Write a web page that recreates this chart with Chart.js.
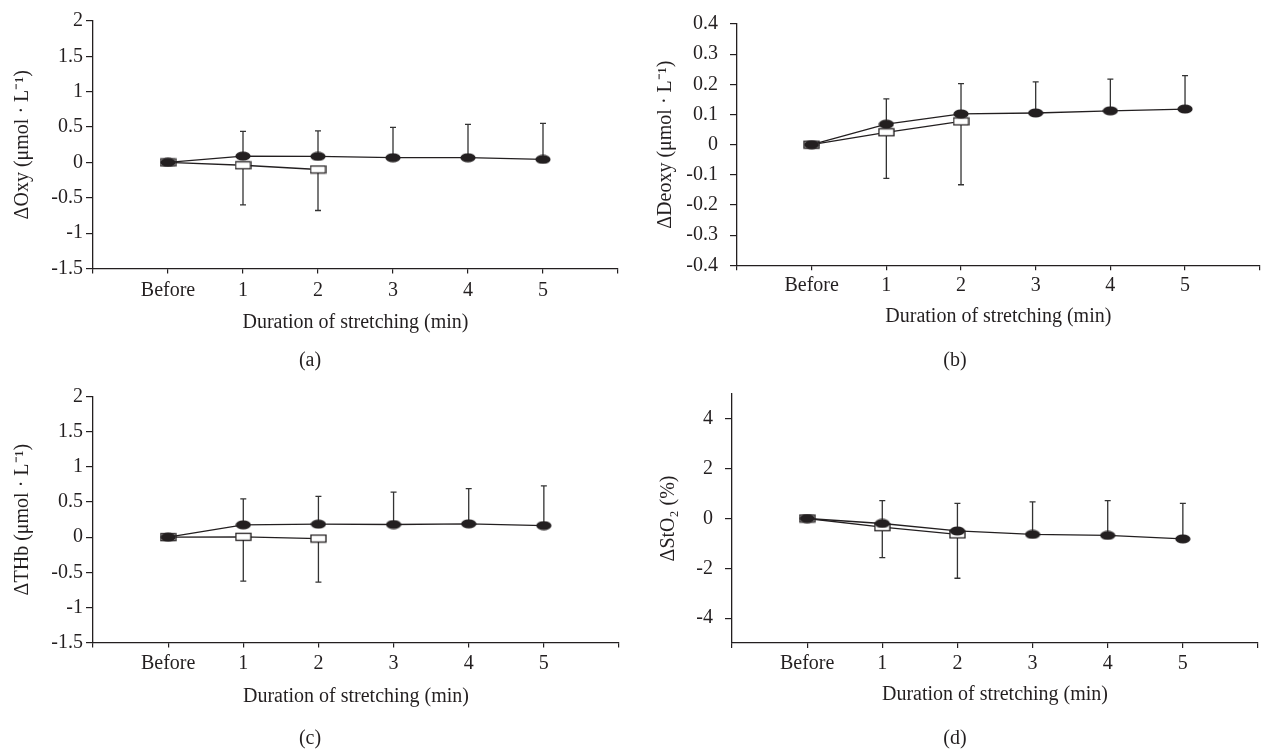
<!DOCTYPE html>
<html>
<head>
<meta charset="utf-8">
<script src="https://cdn.jsdelivr.net/npm/chart.js@4"></script>
<style>
  body { margin: 0; background: #fff; width: 1266px; height: 755px; position: relative; overflow: hidden;
         font-family: 'Liberation Serif', serif; color: #231f20; }
  canvas { position: absolute; }
  .cap { position: absolute; font-size: 20px; transform: translate(-50%, -50%); white-space: nowrap; }
</style>
</head>
<body>
<canvas id="chartA" width="633" height="335" style="left:0;top:0"></canvas>
<canvas id="chartB" width="633" height="329" style="left:633px;top:0"></canvas>
<canvas id="chartC" width="633" height="339" style="left:0;top:370px"></canvas>
<canvas id="chartD" width="633" height="337" style="left:633px;top:370px"></canvas>
<div class="cap" style="left:310px;top:359px">(a)</div>
<div class="cap" style="left:955px;top:359px">(b)</div>
<div class="cap" style="left:310px;top:737px">(c)</div>
<div class="cap" style="left:955px;top:737px">(d)</div>

<script>
// time points on the x axis
const steps = ['Before', '1', '2', '3', '4', '5'];
const xTicks = [-1, 0, 1, 2, 3, 4, 5, 6];

// (a) ΔOxy
const oxyFilled = [0, 0.09, 0.085, 0.067, 0.067, 0.043];
const oxyFilledSD = [null, 0.35, 0.36, 0.43, 0.47, 0.51];
const oxyOpen = [0, -0.04, -0.10];
const oxyOpenSD = [null, 0.56, 0.58];
const oxyTicks = [-1.5, -1, -0.5, 0, 0.5, 1, 1.5, 2];

// (b) ΔDeoxy
const deoxyFilled = [0, 0.068, 0.102, 0.105, 0.112, 0.118];
const deoxyFilledSD = [null, 0.084, 0.100, 0.103, 0.105, 0.111];
const deoxyOpen = [0, 0.041, 0.077];
const deoxyOpenSD = [null, 0.153, 0.21];
const deoxyTicks = [-0.4, -0.3, -0.2, -0.1, 0, 0.1, 0.2, 0.3, 0.4];

// (c) ΔTHb
const thbFilled = [0, 0.175, 0.185, 0.18, 0.19, 0.165];
const thbFilledSD = [null, 0.37, 0.395, 0.46, 0.50, 0.565];
const thbOpen = [0, 0.005, -0.02];
const thbOpenSD = [null, 0.63, 0.62];
const thbTicks = [-1.5, -1, -0.5, 0, 0.5, 1, 1.5, 2];

// (d) ΔStO2
const sto2Filled = [0, -0.2, -0.5, -0.64, -0.68, -0.82];
const sto2FilledSD = [null, 0.92, 1.11, 1.31, 1.40, 1.43];
const sto2Open = [0, -0.35, -0.64];
const sto2OpenSD = [null, 1.22, 1.76];
const sto2Ticks = [-4, -2, 0, 2, 4];

const INK = '#231f20';
Chart.defaults.font.family = "'Liberation Serif', serif";
Chart.defaults.font.size = 20;
Chart.defaults.color = INK;

// marker images: black ellipse and open rectangle
function marker(kind) {
  const c = document.createElement('canvas');
  const ctx = c.getContext('2d');
  if (kind === 'dot') {
    c.width = 16; c.height = 10;
    ctx.fillStyle = INK;
    ctx.beginPath();
    ctx.ellipse(8, 5, 7.6, 4.6, 0, 0, Math.PI * 2);
    ctx.fill();
  } else {
    c.width = 17; c.height = 10;
    ctx.fillStyle = '#fff';
    ctx.fillRect(1, 1.5, 15, 7);
    ctx.strokeStyle = INK;
    ctx.lineWidth = 1.3;
    ctx.strokeRect(1, 1.5, 15, 7);
  }
  return c;
}
const dot = marker('dot');
const box = marker('box');

// one-sided SD bars
const errorBars = {
  id: 'errorBars',
  beforeDatasetsDraw(chart) {
    const { ctx, scales: { x, y } } = chart;
    chart.data.datasets.forEach(ds => {
      ctx.save();
      ctx.strokeStyle = '#333';
      ctx.lineWidth = 1.3;
      ds.data.forEach((p, i) => {
        const sd = ds.sd[i];
        if (sd == null) return;
        const px = x.getPixelForValue(p.x);
        const y0 = y.getPixelForValue(p.y);
        const y1 = y.getPixelForValue(p.y + ds.dir * sd);
        ctx.beginPath();
        ctx.moveTo(px, y0); ctx.lineTo(px, y1);
        ctx.moveTo(px - 3, y1); ctx.lineTo(px + 3, y1);
        ctx.stroke();
      });
      ctx.restore();
    });
  }
};

const pts = arr => arr.map((v, i) => ({ x: i, y: v }));

function panel(id, o) {
  const el = document.getElementById(id);
  const series = (data, sd, dir, style) => ({
    data: pts(data), sd: sd, dir: dir,
    borderColor: INK, borderWidth: 1.3, tension: 0, fill: false,
    pointStyle: style, pointRadius: 5
  });
  new Chart(el, {
    type: 'line',
    data: {
      datasets: [
        series(o.filled, o.filledSD, 1, dot),
        series(o.open, o.openSD, -1, box)
      ]
    },
    options: {
      responsive: false, animation: false, events: [], devicePixelRatio: 1,
      layout: { padding: { left: 0, top: o.T - o.top, right: o.left + el.width - o.R, bottom: 0 } },
      plugins: { legend: { display: false }, tooltip: { enabled: false } },
      scales: {
        x: {
          type: 'linear', min: -1, max: 6,
          afterBuildTicks: s => { s.ticks = xTicks.map(v => ({ value: v })); },
          afterFit: s => { s.height = o.top + el.height - o.B; },
          ticks: { padding: o.xPad, maxRotation: 0, autoSkip: false, callback: v => steps[v] ?? '' },
          grid: { drawOnChartArea: false, tickLength: 5, color: INK, lineWidth: 1.2 },
          border: { color: INK, width: 1.3 },
          title: { display: true, text: 'Duration of stretching (min)', padding: 0 }
        },
        y: {
          min: o.min, max: o.max,
          afterBuildTicks: s => { s.ticks = o.ticks.map(v => ({ value: v })); },
          afterFit: s => { s.width = o.L - o.left; },
          ticks: { padding: o.yPad, callback: v => String(v) },
          grid: { drawOnChartArea: false, tickLength: 7, color: INK, lineWidth: 1.2 },
          border: { color: INK, width: 1.3 },
          title: { display: true, text: o.title, padding: { top: o.titlePad, bottom: 0 } }
        }
      }
    },
    plugins: [errorBars]
  });
}

panel('chartA', {
  left: 0, top: 0, L: 93, T: 21, R: 618, B: 268.5,
  min: -1.5, max: 2, ticks: oxyTicks, yPad: 3, xPad: 5, titlePad: 11,
  title: 'ΔOxy (μmol · L⁻¹)',
  filled: oxyFilled, filledSD: oxyFilledSD, open: oxyOpen, openSD: oxyOpenSD
});
panel('chartB', {
  left: 633, top: 0, L: 737, T: 20, R: 1265, B: 265.3,
  min: -0.4, max: 0.4, ticks: deoxyTicks, yPad: 12, xPad: 3, titlePad: 21,
  title: 'ΔDeoxy (μmol · L⁻¹)',
  filled: deoxyFilled, filledSD: deoxyFilledSD, open: deoxyOpen, openSD: deoxyOpenSD
});
panel('chartC', {
  left: 0, top: 370, L: 93, T: 396.7, R: 619, B: 642.5,
  min: -1.5, max: 2, ticks: thbTicks, yPad: 3, xPad: 4, titlePad: 11,
  title: 'ΔTHb (μmol · L⁻¹)',
  filled: thbFilled, filledSD: thbFilledSD, open: thbOpen, openSD: thbOpenSD
});
panel('chartD', {
  left: 633, top: 370, L: 732, T: 392, R: 1258, B: 643,
  min: -5, max: 5, ticks: sto2Ticks, yPad: 12, xPad: 4, titlePad: 24,
  title: 'ΔStO₂ (%)',
  filled: sto2Filled, filledSD: sto2FilledSD, open: sto2Open, openSD: sto2OpenSD
});
</script>
</body>
</html>
